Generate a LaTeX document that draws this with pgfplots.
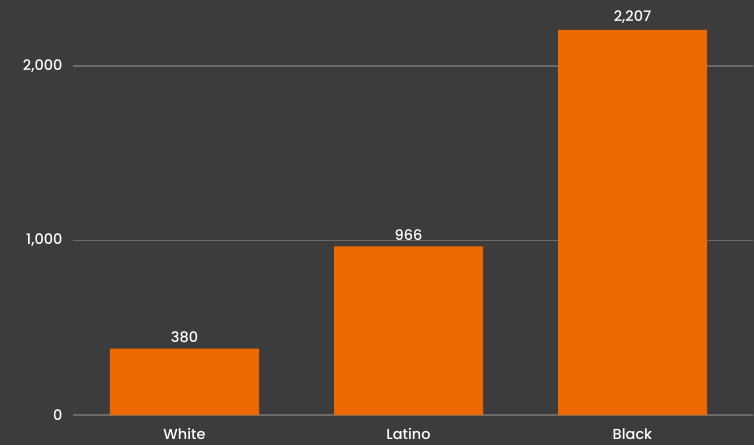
\documentclass[border=0pt]{standalone}
\usepackage{pgfplots}
\pgfplotsset{compat=1.18}
\usepackage{fontspec}
\setmainfont{Poppins}[UprightFont=* Medium]
\definecolor{bg}{HTML}{3C3C3C}
\definecolor{bar}{HTML}{EE6A00}
\definecolor{gridc}{HTML}{6A6A6A}
\begin{document}
\begin{tikzpicture}
\fill[bg] (-184.5pt,-30pt) rectangle (569.5pt,415pt);
\begin{axis}[
  anchor=origin, at={(0pt,0pt)},
  x=224pt, y=0.1745pt,
  xmin=-0.498, xmax=2.54,
  ymin=0, ymax=2250,
  clip=false,
  axis line style={draw=none},
  major tick length=0pt,
  ytick={0,1000,2000},
  ymajorgrids,
  grid style={gridc, line width=1.8pt},
  xtick={0,1,2},
  xticklabels={White,Latino,Black},
  ybar, bar width=149pt,
  /pgf/number format/1000 sep={,},
  /pgf/number format/assume math mode=true,
  font=\fontsize{14.5}{17}\selectfont,
  ticklabel style={text=white, font=\fontsize{14.5}{17}\selectfont},
  yticklabel style={xshift=-7pt},
  xticklabel style={yshift=-10pt},
  nodes near coords,
  every node near coord/.append style={text=white, font=\fontsize{14.5}{17}\selectfont, yshift=2.5pt},
]
\addplot[fill=bar, draw=none] coordinates {(0,380) (1,966) (2,2207)};
\end{axis}
\pgfresetboundingbox
\useasboundingbox (-184.5pt,-30pt) rectangle (569.5pt,415pt);
\end{tikzpicture}
\end{document}
